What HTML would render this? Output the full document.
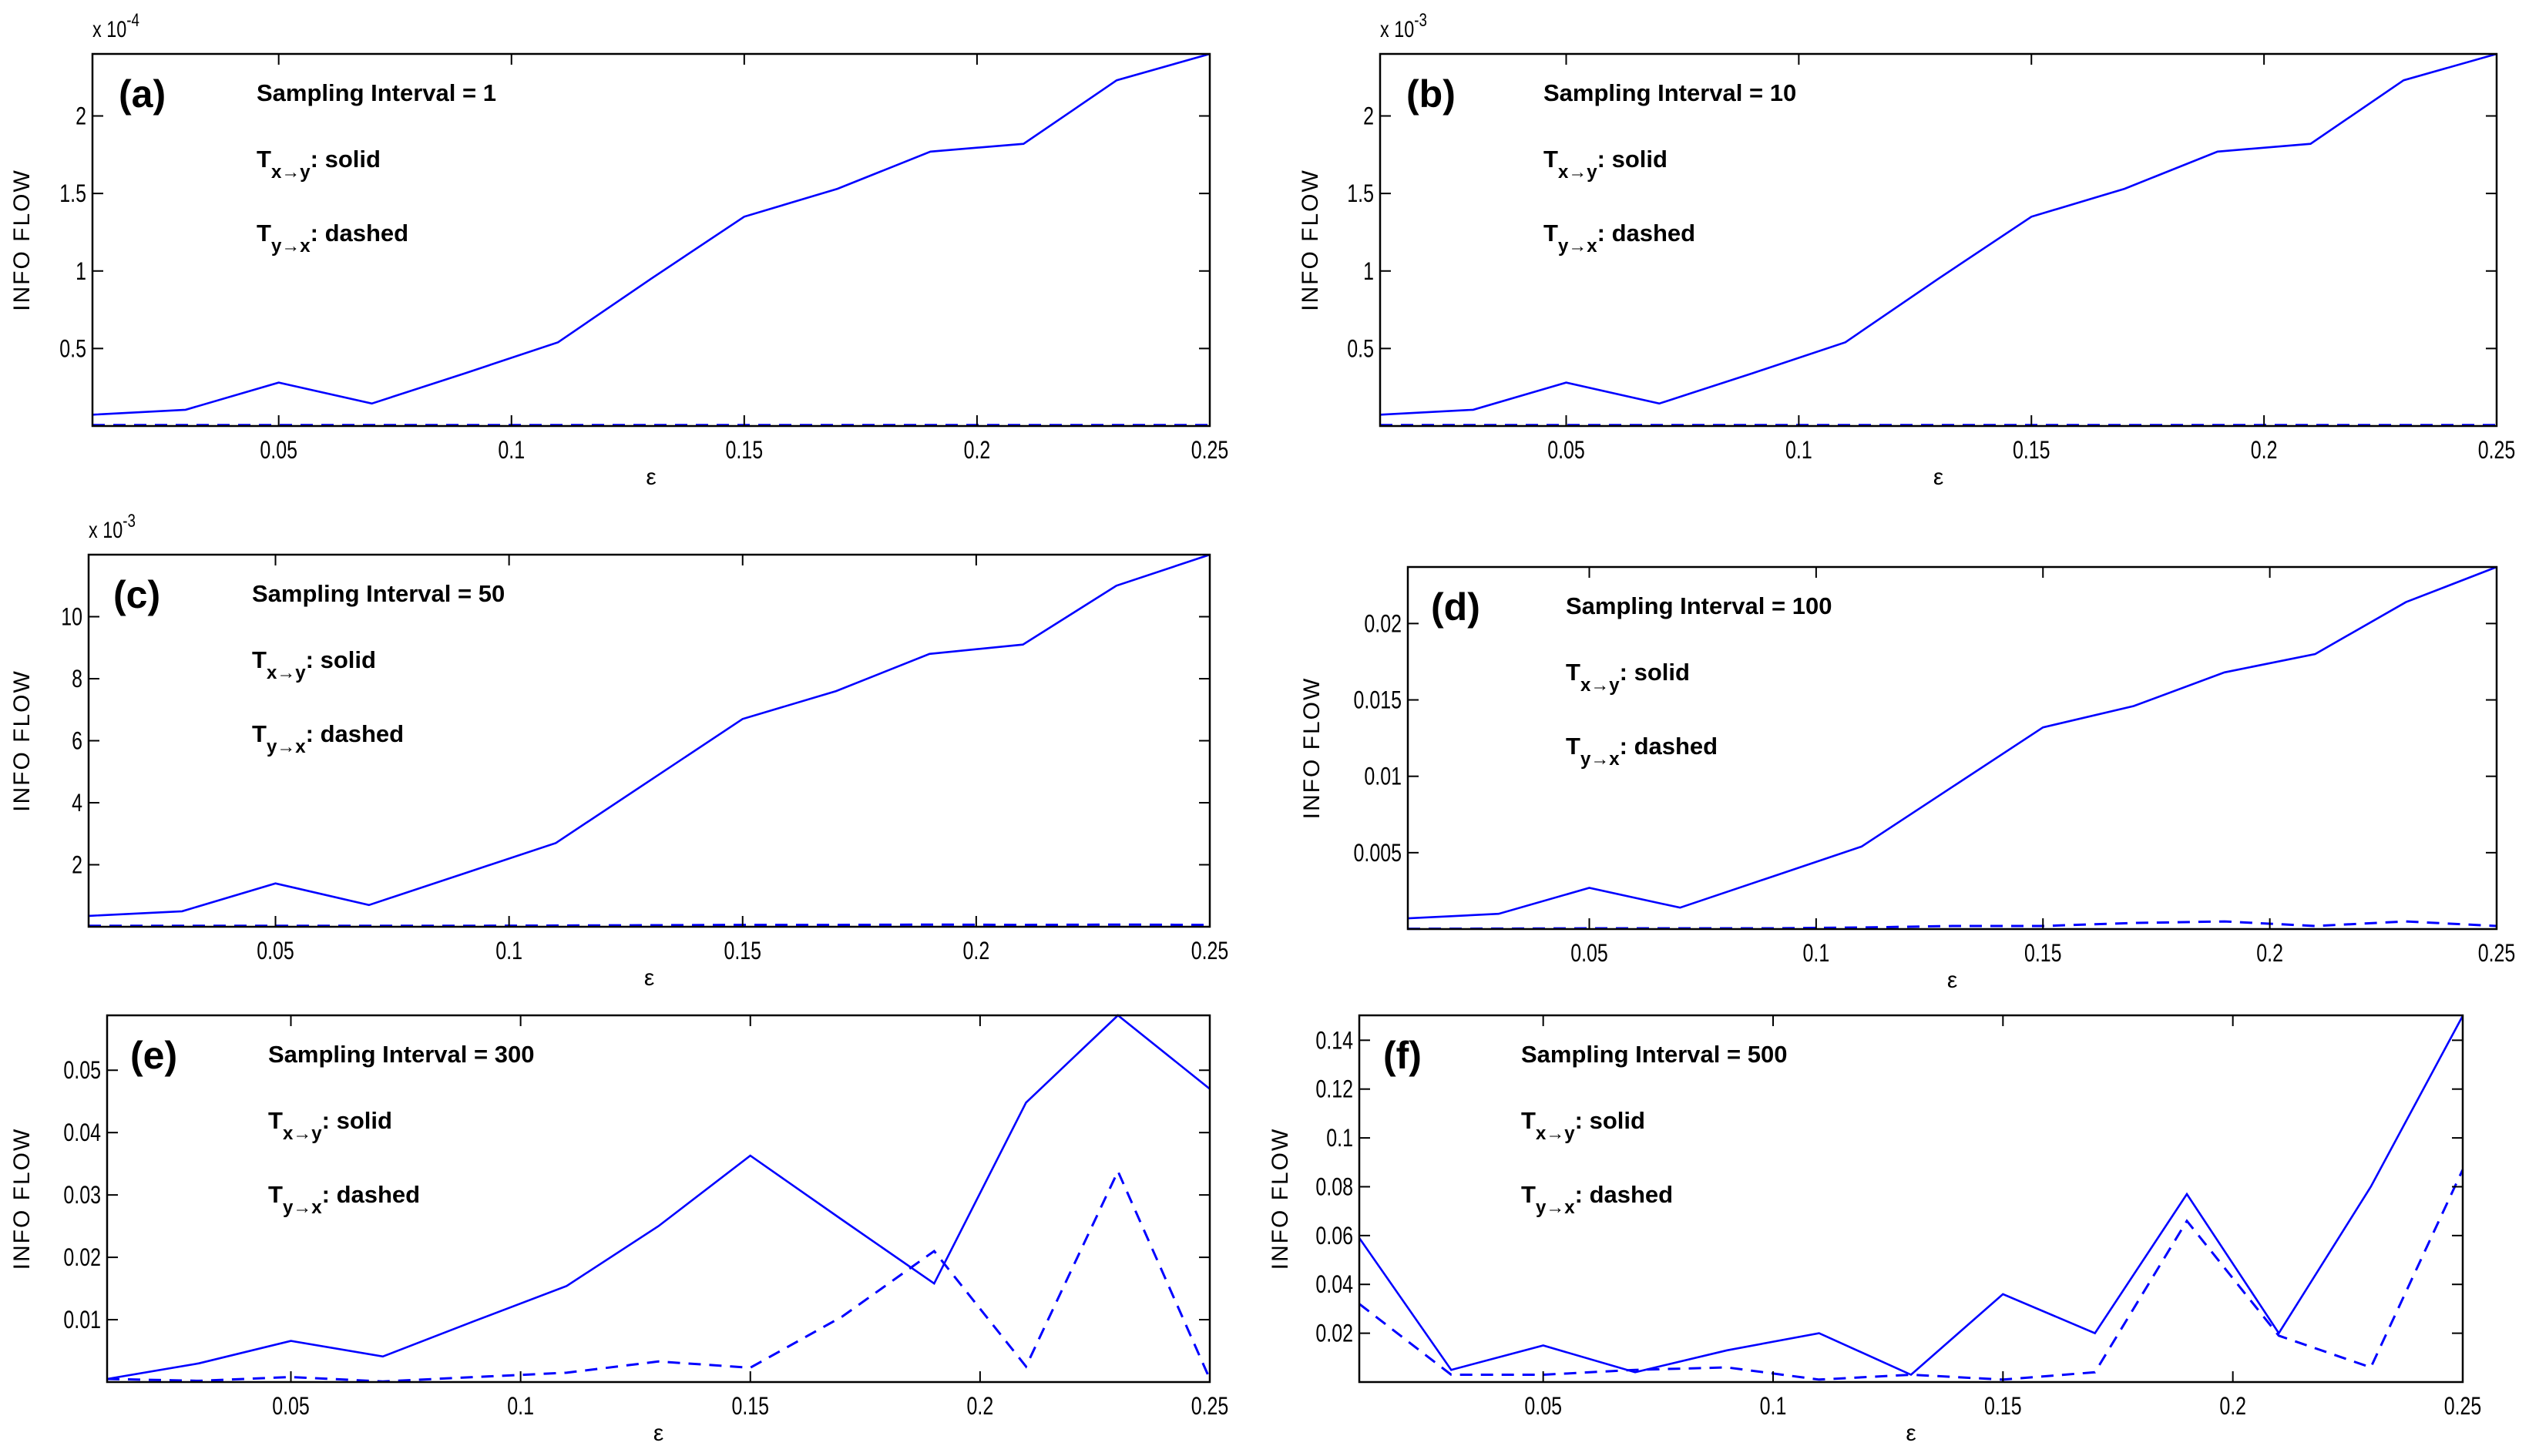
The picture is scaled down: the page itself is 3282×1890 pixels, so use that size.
<!DOCTYPE html>
<html><head><meta charset="utf-8"><style>
html,body{margin:0;padding:0;background:#fff;}
svg{display:block;}
text{font-family:"Liberation Sans Narrow","Liberation Sans",sans-serif;fill:#000;}
</style></head><body>
<svg id="fig" width="3282" height="1890" viewBox="0 0 3282 1890" xmlns="http://www.w3.org/2000/svg"></svg>
<script>
const xValues = [0.01,0.03,0.05,0.07,0.09,0.11,0.13,0.15,0.17,0.19,0.21,0.23,0.25];
const xTicks = [0.05,0.1,0.15,0.2,0.25];
const xTickLabels = ["0.05","0.1","0.15","0.2","0.25"];
const solidA = [0.073,0.105,0.28,0.145,0.34,0.54,0.95,1.35,1.53,1.77,1.82,2.23,2.4];
const dashedA = [0.006,0.006,0.006,0.006,0.006,0.006,0.006,0.006,0.006,0.006,0.006,0.006,0.006];
const solidB = [0.073,0.105,0.28,0.145,0.34,0.54,0.95,1.35,1.53,1.77,1.82,2.23,2.4];
const dashedB = [0.006,0.006,0.006,0.006,0.006,0.006,0.006,0.006,0.006,0.006,0.006,0.006,0.006];
const solidC = [0.35,0.5,1.4,0.7,1.7,2.7,4.7,6.7,7.6,8.8,9.1,11.0,12.0];
const dashedC = [0.03,0.03,0.03,0.03,0.03,0.04,0.05,0.06,0.06,0.07,0.06,0.07,0.06];
const solidD = [0.0007,0.001,0.0027,0.0014,0.0034,0.0054,0.0093,0.0132,0.0146,0.0168,0.018,0.0214,0.0237];
const dashedD = [0.00002,0.00003,0.00005,0.00005,0.00005,0.0001,0.0002,0.0002,0.0004,0.0005,0.0002,0.0005,0.0002];
const solidE = [0.0005,0.003,0.0066,0.0041,0.0098,0.0154,0.025,0.0363,0.026,0.0158,0.0448,0.0588,0.047];
const dashedE = [0.0005,0.0002,0.0008,0.0001,0.0008,0.0015,0.0033,0.0023,0.0105,0.021,0.0025,0.0338,0.0005];
const solidF = [0.059,0.005,0.015,0.004,0.013,0.02,0.003,0.036,0.02,0.077,0.02,0.08,0.15];
const dashedF = [0.032,0.003,0.003,0.005,0.006,0.001,0.003,0.001,0.004,0.066,0.019,0.006,0.087];
const yTicksA = [0.5,1,1.5,2]; const yLabelsA = ["0.5","1","1.5","2"];
const yTicksC = [2,4,6,8,10]; const yLabelsC = ["2","4","6","8","10"];
const yTicksD = [0.005,0.01,0.015,0.02]; const yLabelsD = ["0.005","0.01","0.015","0.02"];
const yTicksE = [0.01,0.02,0.03,0.04,0.05]; const yLabelsE = ["0.01","0.02","0.03","0.04","0.05"];
const yTicksF = [0.02,0.04,0.06,0.08,0.1,0.12,0.14]; const yLabelsF = ["0.02","0.04","0.06","0.08","0.1","0.12","0.14"];

const panels = [
 {id:'a',L:120,R:1570,T:70,B:553,ymax:2.4,solid:solidA,dashed:dashedA,yt:yTicksA,yl:yLabelsA,exp:'-4',si:'1',tx:213,lx:34,yl_x:38},
 {id:'b',L:1791,R:3240,T:70,B:553,ymax:2.4,solid:solidB,dashed:dashedB,yt:yTicksA,yl:yLabelsA,exp:'-3',si:'10',tx:212,lx:34,yl_x:1710},
 {id:'c',L:115,R:1570,T:720,B:1203,ymax:12,solid:solidC,dashed:dashedC,yt:yTicksC,yl:yLabelsC,exp:'-3',si:'50',tx:212,lx:32,yl_x:38},
 {id:'d',L:1827,R:3240,T:736,B:1206,ymax:0.0237,solid:solidD,dashed:dashedD,yt:yTicksD,yl:yLabelsD,exp:null,si:'100',tx:205,lx:30,yl_x:1712},
 {id:'e',L:139,R:1570,T:1318,B:1794,ymax:0.0588,solid:solidE,dashed:dashedE,yt:yTicksE,yl:yLabelsE,exp:null,si:'300',tx:209,lx:30,yl_x:38},
 {id:'f',L:1764,R:3196,T:1318,B:1794,ymax:0.1502,solid:solidF,dashed:dashedF,yt:yTicksF,yl:yLabelsF,exp:null,si:'500',tx:210,lx:31,yl_x:1671}
];
const NS='http://www.w3.org/2000/svg';
const svg=document.getElementById('fig');
function mk(tag,attrs,parent,txt){const e=document.createElementNS(NS,tag);for(const k in attrs)e.setAttribute(k,attrs[k]);if(txt!==undefined)e.textContent=txt;(parent||svg).appendChild(e);return e;}
const SX=0.78;

panels.forEach(p=>{
 const g=mk('g',{});
 
 
 const xs=v=>p.L+(v-0.01)/0.24*(p.R-p.L);
 const ys=v=>p.B-v/p.ymax*(p.B-p.T);
 const pts=arr=>arr.map((v,i)=>xs(xValues[i]).toFixed(1)+','+ys(v).toFixed(1)).join(' ');
 const s=mk('polyline',{points:pts(p.solid),fill:'none',stroke:'#0000ff','stroke-width':2.6},g);
 
 
 const d=mk('polyline',{points:pts(p.dashed),fill:'none',stroke:'#0000ff','stroke-width':3,'stroke-dasharray':'16,11'},g);
 
 
 const box=mk('rect',{x:p.L,y:p.T,width:p.R-p.L,height:p.B-p.T,fill:'none',stroke:'#000','stroke-width':2.5},g);
 
 
 const tl=14;
 xTicks.forEach((t,i)=>{
  const x=xs(t);
  mk('line',{x1:x,x2:x,y1:p.B,y2:p.B-tl,stroke:'#000','stroke-width':2},g);
  mk('line',{x1:x,x2:x,y1:p.T,y2:p.T+tl,stroke:'#000','stroke-width':2},g);
  const lab=mk('text',{x:0,y:0,'font-size':32,'text-anchor':'middle',transform:'translate('+x+','+(p.B+42)+') scale('+SX+',1)'},g,xTickLabels[i]);
  
  
 });
 p.yt.forEach((t,i)=>{
  const y=ys(t);
  mk('line',{x1:p.L,x2:p.L+tl,y1:y,y2:y,stroke:'#000','stroke-width':2},g);
  mk('line',{x1:p.R,x2:p.R-tl,y1:y,y2:y,stroke:'#000','stroke-width':2},g);
  const lab=mk('text',{x:0,y:0,'font-size':32,'text-anchor':'end',transform:'translate('+(p.L-8)+','+(y+11)+') scale('+SX+',1)'},g,p.yl[i]);
  
  
 });
 if(p.exp){
  const ex=mk('text',{x:0,y:0,'font-size':30,transform:'translate('+p.L+','+(p.T-22)+') scale('+SX+',1)'},g);
  
  
  mk('tspan',{},ex,'x 10');
  mk('tspan',{dy:-14,'font-size':24},ex,p.exp);
 }
 const xl=mk('text',{x:(p.L+p.R)/2,y:p.B+76,'font-size':30,'text-anchor':'middle'},g,'ε');
 
 
 const yl=mk('text',{x:0,y:0,'font-size':30,'text-anchor':'middle','letter-spacing':2,'font-family':'Liberation Sans, sans-serif',transform:'translate('+(p.yl_x)+','+((p.T+p.B)/2)+') rotate(-90)'},g,'INFO FLOW');
 
 
 const pl=mk('text',{x:p.L+p.lx,y:p.T+69,'font-size':50,'font-weight':'bold'},g,'('+p.id+')');
 
 
 const ax=p.L+p.tx;
 const a1=mk('text',{x:ax,y:p.T+61,'font-size':31,'font-weight':'bold'},g,'Sampling Interval = '+p.si);
 
 
 const a2=mk('text',{x:ax,y:p.T+147,'font-size':31,'font-weight':'bold'},g);
 
 
 mk('tspan',{},a2,'T');mk('tspan',{dy:14,'font-size':24},a2,'x→y');mk('tspan',{dy:-14},a2,': solid');
 const a3=mk('text',{x:ax,y:p.T+243,'font-size':31,'font-weight':'bold'},g);
 
 
 mk('tspan',{},a3,'T');mk('tspan',{dy:14,'font-size':24},a3,'y→x');mk('tspan',{dy:-14},a3,': dashed');
});
</script>
</body></html>
